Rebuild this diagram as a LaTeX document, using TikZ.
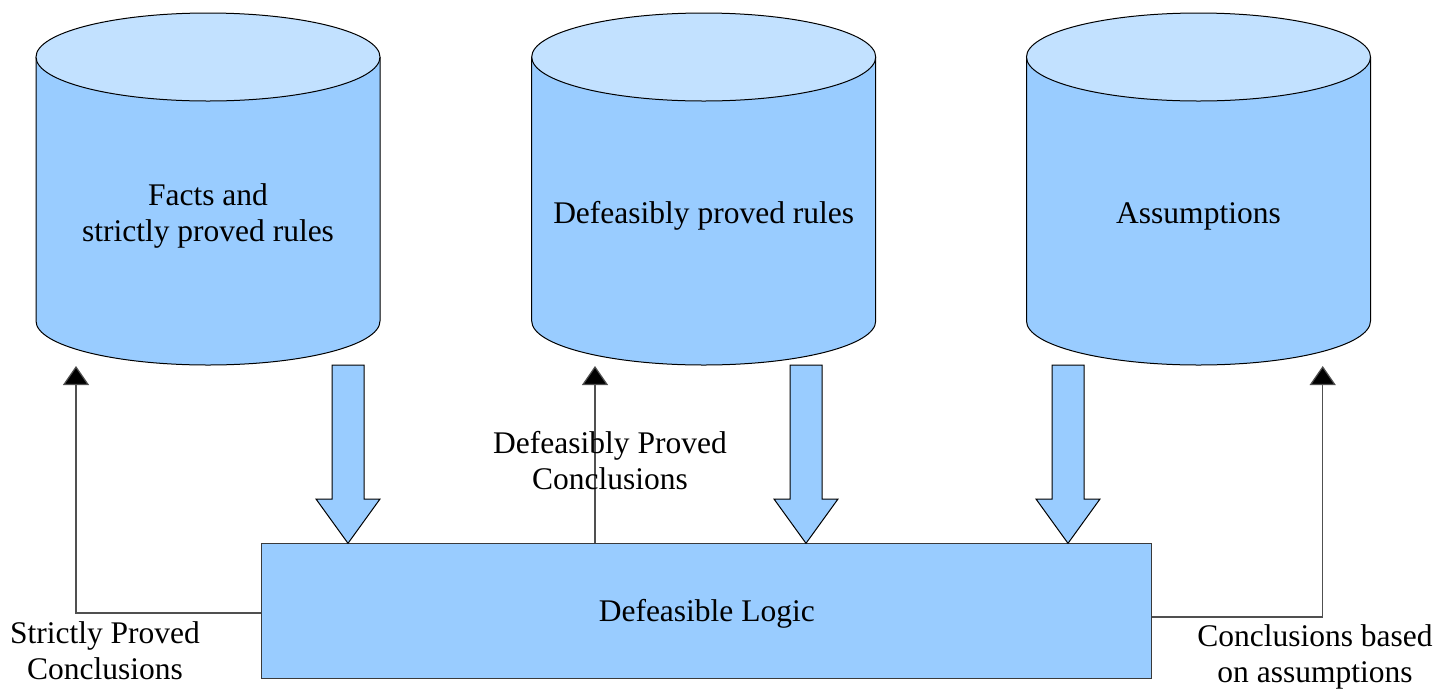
\documentclass[tikz,border=0pt]{standalone}
\usepackage{fontspec}
\setmainfont{Liberation Serif}
\usetikzlibrary{arrows.meta}

\definecolor{bodyblue}{HTML}{99CCFF}
\definecolor{topblue}{HTML}{C2E1FF}
\definecolor{edgegray}{HTML}{3A3A3A}
\definecolor{linegray}{HTML}{505050}

% database cylinder centred on x = #1
\newcommand{\dbcylinder}[1]{%
  \fill[bodyblue] ({#1-172},57) -- ({#1-172},321)
    arc[start angle=180,end angle=0,x radius=172,y radius=44] -- ({#1+172},57) -- cycle;
  \draw[outline] ({#1-172},57) -- ({#1-172},321)
    arc[start angle=180,end angle=0,x radius=172,y radius=44] -- ({#1+172},57);
  \filldraw[outline,fill=topblue] (#1,57) ellipse[x radius=172,y radius=44];
}

% thick downward block arrow ending on the logic box
\newcommand{\blockarrow}[1]{%
  \filldraw[outline,fill=bodyblue] ({#1-16},365) -- ({#1-16},499) -- ({#1-32},499)
    -- ({#1},0 |- logic.north) -- ({#1+32},499) -- ({#1+16},499) -- ({#1+16},365) -- cycle;
}

\begin{document}
\begin{tikzpicture}[x=0.5pt,y=-0.5pt,
  outline/.style={draw=black,line width=0.5pt},
  txt/.style={inner sep=0pt,align=center,font=\fontsize{15.75}{18}\selectfont},
  logicbox/.style={draw=edgegray,line width=0.5pt,fill=bodyblue,minimum width=445pt,minimum height=67.2pt,inner sep=0pt},
  conn/.style={draw=linegray,line width=0.6pt,-{Triangle[width=13pt,length=9.5pt,fill=black]}}]
  \useasboundingbox (0,0) rectangle (1453,692);

  % databases
  \dbcylinder{208}
  \dbcylinder{703.7}
  \dbcylinder{1198.5}
  \node[txt] (facts) at (208,216) {Facts and\\strictly proved rules};
  \node[txt] (defrules) at (703.7,216) {Defeasibly proved rules};
  \node[txt] (assume) at (1198.5,216) {Assumptions};

  % reasoning engine
  \node[logicbox] (logic) at (706.8,611) {};
  \node[txt] (logiclabel) at (706.8,614) {Defeasible Logic};

  % inputs
  \blockarrow{348}
  \blockarrow{806}
  \blockarrow{1068}

  % outputs
  \coordinate (strictTip) at (76,366);
  \coordinate (defTip) at (595,366);
  \coordinate (assumeTip) at (1322.7,366);
  \draw[conn] ([yshift=-1pt]logic.west) -| (strictTip);
  \draw[conn] (logic.north -| defTip) -- (defTip);
  \draw[conn] ([yshift=-3pt]logic.east) -| (assumeTip);

  \node[txt] (strictLbl) at (105,651) {Strictly Proved\\Conclusions};
  \node[txt] (defLbl) at (610,461) {Defeasibly Proved\\Conclusions};
  \node[txt] (assumeLbl) at (1315,657) {Conclusions based\\on assumptions};
\end{tikzpicture}
\end{document}
